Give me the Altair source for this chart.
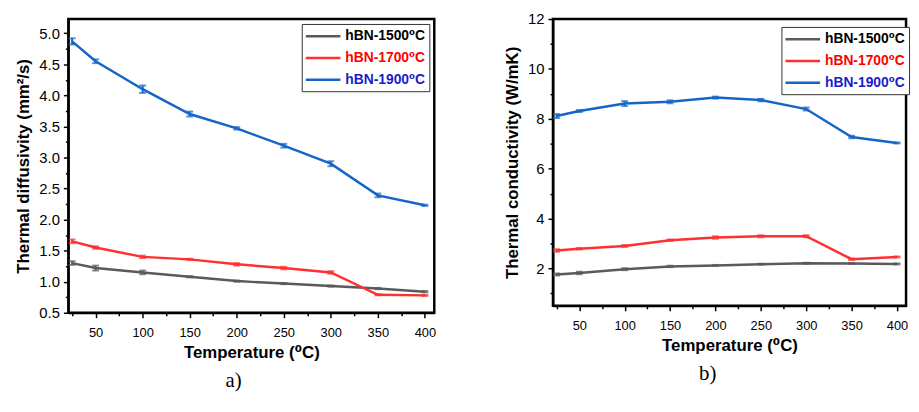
import altair as alt
import pandas as pd

temps = [25, 50, 100, 150, 200, 250, 300, 350, 400]
series = ["hBN-1500⁰C", "hBN-1700⁰C", "hBN-1900⁰C"]
line_colors = ["#5a5a5a", "#ff3030", "#1565c8"]
legend_text_colors = ["#000000", "#ff0000", "#1a1acc"]

# a) thermal diffusivity (mm2/s)
diff_1500 = [1.30, 1.22, 1.15, 1.08, 1.01, 0.97, 0.93, 0.89, 0.84]
diff_1700 = [1.65, 1.55, 1.40, 1.36, 1.28, 1.22, 1.15, 0.79, 0.78]
diff_1900 = [4.87, 4.55, 4.10, 3.70, 3.47, 3.19, 2.90, 2.39, 2.23]
diff_err_1500 = [0.03, 0.04, 0.03, 0.01, 0.01, 0.01, 0.01, 0.01, 0.01]
diff_err_1700 = [0.03, 0.02, 0.02, 0.01, 0.02, 0.02, 0.02, 0.01, 0.01]
diff_err_1900 = [0.05, 0.03, 0.06, 0.04, 0.02, 0.03, 0.04, 0.03, 0.01]

# b) thermal conductivity (W/mK)
cond_1500 = [1.76, 1.82, 1.97, 2.08, 2.12, 2.17, 2.21, 2.20, 2.18]
cond_1700 = [2.72, 2.79, 2.90, 3.13, 3.24, 3.29, 3.29, 2.37, 2.46]
cond_1900 = [8.11, 8.31, 8.61, 8.68, 8.85, 8.75, 8.39, 7.27, 7.03]
cond_err_1500 = [0.04, 0.05, 0.04, 0.03, 0.02, 0.02, 0.02, 0.02, 0.02]
cond_err_1700 = [0.05, 0.03, 0.04, 0.03, 0.05, 0.04, 0.04, 0.03, 0.02]
cond_err_1900 = [0.08, 0.04, 0.10, 0.06, 0.04, 0.05, 0.06, 0.05, 0.02]

x_tick_values = [25, 50, 75, 100, 125, 150, 175, 200, 225, 250, 275, 300, 325, 350, 375, 400]
diff_tick_values = [0.5, 0.75, 1.0, 1.25, 1.5, 1.75, 2.0, 2.25, 2.5, 2.75, 3.0, 3.25,
                    3.5, 3.75, 4.0, 4.25, 4.5, 4.75, 5.0]
cond_tick_values = [1, 2, 3, 4, 5, 6, 7, 8, 9, 10, 11, 12]

SANS = "Liberation Sans, Arial, DejaVu Sans, sans-serif"
SERIF = "Liberation Serif, Times New Roman, DejaVu Serif, serif"


def long_frame(vals, errs):
    rows = []
    for s, v_list, e_list in zip(series, vals, errs):
        for t, v, e in zip(temps, v_list, e_list):
            rows.append({"T": t, "v": v, "e": e, "series": s})
    return pd.DataFrame(rows)


diff_df = long_frame([diff_1500, diff_1700, diff_1900],
                     [diff_err_1500, diff_err_1700, diff_err_1900])
cond_df = long_frame([cond_1500, cond_1700, cond_1900],
                     [cond_err_1500, cond_err_1700, cond_err_1900])

label_color_expr = (
    f"datum.label === '{series[0]}' ? '{legend_text_colors[0]}' : "
    f"datum.label === '{series[1]}' ? '{legend_text_colors[1]}' : '{legend_text_colors[2]}'"
)


def panel(df, ytitle, ydomain, yticks, ymajor_test, yfmt, width, height,
          leg_x, leg_y, caption, cap_dx):
    x_enc = alt.X(
        "T:Q",
        scale=alt.Scale(domain=[21, 410], nice=False, zero=False),
        axis=alt.Axis(
            title="Temperature (⁰C)",
            values=x_tick_values,
            labelExpr="datum.value % 50 === 0 ? datum.label : ''",
            tickSize={"condition": {"test": "datum.value % 50 === 0", "value": 5}, "value": 3},
            labelFontSize=13,
            labelPadding=9,
            titlePadding=5,
            grid=False,
        ),
    )
    y_enc = alt.Y(
        "v:Q",
        scale=alt.Scale(domain=ydomain, nice=False, zero=False),
        axis=alt.Axis(
            title=ytitle,
            values=yticks,
            format=yfmt,
            labelExpr=f"{ymajor_test} ? datum.label : ''",
            tickSize={"condition": {"test": ymajor_test, "value": 5}, "value": 3},
            labelFontSize=15,
            labelPadding=4,
            titlePadding=6,
            grid=False,
        ),
    )
    color_scale = alt.Scale(domain=series, range=line_colors)
    lines = alt.Chart(df).mark_line(strokeWidth=2.5).encode(
        x=x_enc,
        y=y_enc,
        color=alt.Color(
            "series:N",
            scale=color_scale,
            legend=alt.Legend(
                title=None,
                orient="none",
                legendX=leg_x,
                legendY=leg_y,
                symbolType="M-1.2,0H3.8",
                symbolSize=196,
                symbolStrokeWidth=2.5,
                labelFont=SANS,
                labelFontSize=14,
                labelFontWeight="bold",
                labelColor={"expr": label_color_expr},
                labelOffset=23,
                padding=4,
                rowPadding=6,
                strokeColor="#333333",
                fillColor="white",
            ),
        ),
        detail="series:N",
    )
    bars = alt.Chart(df).mark_errorbar(ticks={"size": 7}, thickness=2).encode(
        x=x_enc,
        y=y_enc,
        yError="e:Q",
        color=alt.Color("series:N", scale=color_scale, legend=None),
    )
    return alt.layer(lines, bars).properties(
        width=width,
        height=height,
        title=alt.TitleParams(
            caption,
            orient="bottom",
            font=SERIF,
            fontSize=21,
            fontWeight="normal",
            color="black",
            dx=cap_dx,
            offset=10,
        ),
    )


left = panel(diff_df, "Thermal diffusivity (mm²/s)", [0.5, 5.23], diff_tick_values,
             "datum.value % 0.5 === 0", ".1f", 370, 297, 236, 5, "a)", -18)
right = panel(cond_df, "Thermal conductivity (W/mK)", [0.5, 12], cond_tick_values,
              "datum.value % 2 === 0", "d", 357, 290, 231, 8, "b)", -22)

chart = (
    alt.hconcat(left, right, spacing=66)
    .resolve_scale(color="independent")
    .resolve_legend(color="independent")
    .properties(padding={"left": 5, "top": 0, "right": 0, "bottom": 0})
    .configure(font=SANS)
    .configure_view(stroke="black", strokeWidth=2.5)
    .configure_axis(
        domainColor="black",
        domainWidth=2,
        tickColor="black",
        tickWidth=1.5,
        labelFont=SANS,
        labelColor="black",
        titleFont=SANS,
        titleFontSize=17,
        titleFontWeight="bold",
        titleColor="black",
    )
)

chart.save("out.html", embed_options={"renderer": "svg", "actions": False})
